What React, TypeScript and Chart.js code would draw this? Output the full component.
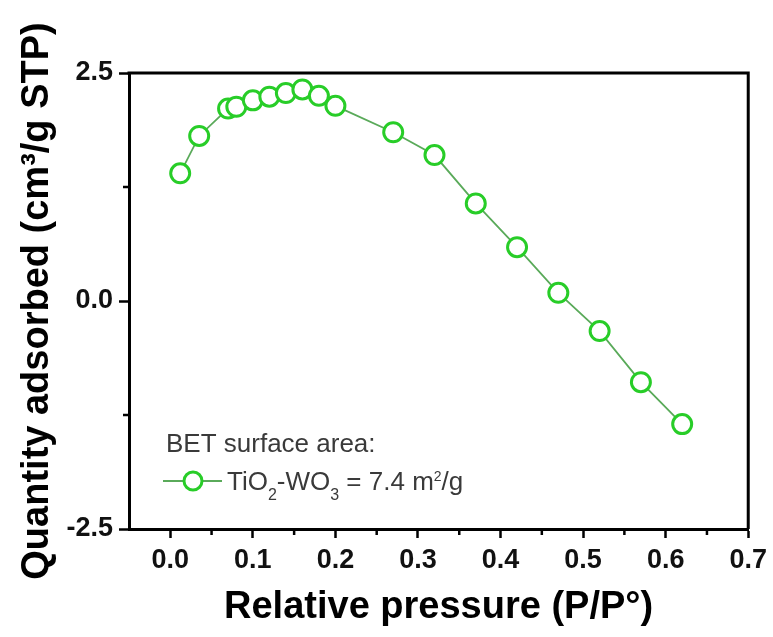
import React, { useEffect, useRef } from 'react';
import { Chart, registerables } from 'chart.js';

Chart.register(...registerables);

// ---- data ----
const pressure = [0.012, 0.035, 0.07, 0.08, 0.1, 0.12, 0.14, 0.16, 0.18, 0.2, 0.27, 0.32, 0.37, 0.42, 0.47, 0.52, 0.57, 0.62];
const quantity = [1.4, 1.81, 2.11, 2.13, 2.2, 2.24, 2.28, 2.32, 2.25, 2.14, 1.85, 1.6, 1.07, 0.59, 0.09, -0.33, -0.89, -1.35];

const xMajorTicks = [0, 0.1, 0.2, 0.3, 0.4, 0.5, 0.6, 0.7];
const xMinorTicks = [0.05, 0.15, 0.25, 0.35, 0.45, 0.55, 0.65];
const yMajorTicks = [-2.5, 0, 2.5];
const yMinorTicks = [-1.25, 1.25];

const xTitle = 'Relative pressure (P/P°)';
const yTitle = 'Quantity adsorbed (cm³/g STP)';
const legendHeading = 'BET surface area:';
// [text, kind] kind: n = normal, sub = subscript, sup = superscript
const legendParts: [string, string][] = [
  ['TiO', 'n'], ['2', 'sub'], ['-WO', 'n'], ['3', 'sub'], [' = 7.4 m', 'n'], ['2', 'sup'], ['/g', 'n'],
];

const FONT = '"Liberation Sans", Arial, sans-serif';
const MARKER = 'rgb(40,205,40)';
const LINE = 'rgb(90,170,90)';

const framePlugin = {
  id: 'frameAndLegend',
  afterDraw(chart: any) {
    const { ctx, chartArea: a, scales } = chart;
    const xs = scales.x;
    const ys = scales.y;
    ctx.save();
    // top/right frame
    ctx.strokeStyle = '#000';
    ctx.lineWidth = 3;
    ctx.beginPath();
    ctx.moveTo(a.left - 1.5, a.top);
    ctx.lineTo(a.right, a.top);
    ctx.lineTo(a.right, a.bottom);
    ctx.stroke();
    // minor ticks
    ctx.lineWidth = 2.5;
    ctx.beginPath();
    xMinorTicks.forEach((v) => {
      const px = xs.getPixelForValue(v);
      ctx.moveTo(px, a.bottom);
      ctx.lineTo(px, a.bottom + 6);
    });
    yMinorTicks.forEach((v) => {
      const py = ys.getPixelForValue(v);
      ctx.moveTo(a.left, py);
      ctx.lineTo(a.left - 6, py);
    });
    ctx.stroke();

    // legend annotation
    const lx = a.left + 37;
    ctx.fillStyle = '#3a3a3a';
    ctx.textBaseline = 'alphabetic';
    ctx.textAlign = 'left';
    ctx.font = `26px ${FONT}`;
    ctx.fillText(legendHeading, lx, a.top + 379);

    const rowY = a.top + 408;
    ctx.strokeStyle = LINE;
    ctx.lineWidth = 2;
    ctx.beginPath();
    ctx.moveTo(lx - 3, rowY);
    ctx.lineTo(lx + 56, rowY);
    ctx.stroke();
    ctx.beginPath();
    ctx.arc(lx + 27, rowY, 9, 0, Math.PI * 2);
    ctx.fillStyle = '#fff';
    ctx.fill();
    ctx.strokeStyle = MARKER;
    ctx.lineWidth = 3;
    ctx.stroke();

    let tx = lx + 61;
    const base = rowY + 9;
    ctx.fillStyle = '#3a3a3a';
    legendParts.forEach(([t, kind]) => {
      if (kind === 'n') {
        ctx.font = `26px ${FONT}`;
        ctx.fillText(t, tx, base);
      } else if (kind === 'sub') {
        ctx.font = `16px ${FONT}`;
        ctx.fillText(t, tx, base + 10);
      } else {
        ctx.font = `14px ${FONT}`;
        ctx.fillText(t, tx, base - 9);
      }
      tx += ctx.measureText(t).width;
    });
    ctx.restore();
  },
};

export default function App() {
  const ref = useRef<HTMLCanvasElement | null>(null);
  useEffect(() => {
    if (!ref.current) return;
    const chart = new Chart(ref.current, {
      type: 'line',
      data: {
        datasets: [
          {
            data: pressure.map((p, i) => ({ x: p, y: quantity[i] })),
            borderColor: LINE,
            borderWidth: 1.8,
            pointRadius: 9.5,
            pointBorderWidth: 3,
            pointBorderColor: MARKER,
            pointBackgroundColor: '#fff',
            tension: 0,
            fill: false,
          },
        ],
      },
      options: {
        responsive: false,
        devicePixelRatio: 1,
        animation: false,
        layout: { padding: { top: 73, right: 24, left: 0, bottom: 0 } },
        plugins: { legend: { display: false }, tooltip: { enabled: false } },
        scales: {
          x: {
            type: 'linear',
            min: -0.05,
            max: 0.7,
            afterFit: (s: any) => {
              s.height = 108;
            },
            afterBuildTicks: (s: any) => {
              s.ticks = xMajorTicks.map((v) => ({ value: v }));
            },
            grid: { drawOnChartArea: false, drawTicks: true, tickLength: 9, tickWidth: 2.5, tickColor: '#000' },
            border: { display: true, width: 3, color: '#000' },
            ticks: {
              padding: 6,
              color: '#111',
              font: { family: FONT, size: 27, weight: 'bold' },
              callback: (v: any) => Number(v).toFixed(1),
              maxRotation: 0,
              autoSkip: false,
            },
            title: {
              display: true,
              text: xTitle,
              color: '#000',
              font: { family: FONT, size: 38, weight: 'bold' },
              padding: { top: 0, bottom: 7 },
            },
          },
          y: {
            type: 'linear',
            min: -2.5,
            max: 2.5,
            afterFit: (s: any) => {
              s.width = 129;
            },
            afterBuildTicks: (s: any) => {
              s.ticks = yMajorTicks.map((v) => ({ value: v }));
            },
            grid: { drawOnChartArea: false, drawTicks: true, tickLength: 10, tickWidth: 2.5, tickColor: '#000' },
            border: { display: true, width: 3, color: '#000' },
            ticks: {
              padding: 6,
              color: '#111',
              font: { family: FONT, size: 27, weight: 'bold' },
              callback: (v: any) => Number(v).toFixed(1),
              autoSkip: false,
            },
            title: {
              display: true,
              text: yTitle,
              color: '#000',
              font: { family: FONT, size: 38, weight: 'bold' },
              padding: { top: 15, bottom: 0 },
            },
          },
        },
      },
      plugins: [framePlugin],
    } as any);
    return () => chart.destroy();
  }, []);
  return (
    <div style={{ position: 'fixed', left: 0, top: 0, width: 773, height: 637, background: '#fff' }}>
      <canvas ref={ref} width={773} height={637} style={{ display: 'block', width: 773, height: 637 }} />
    </div>
  );
}
